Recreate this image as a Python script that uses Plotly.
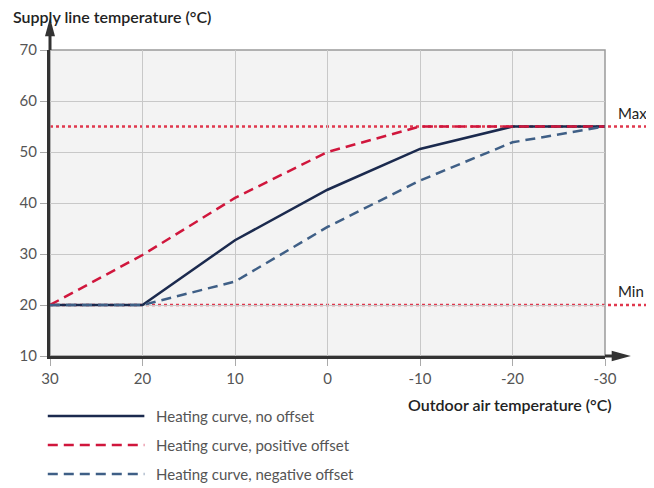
import plotly.graph_objects as go

# outdoor temperature points (x axis runs from 30 down to -30)
outdoor = [30, 20, 10, 0, -10, -20, -30]
no_offset = [20, 20, 32.7, 42.6, 50.6, 55, 55]
positive_offset = [20, 29.8, 41, 50, 55, 55, 55]
negative_offset = [20, 20, 24.6, 35.3, 44.4, 51.9, 55]

limit_names = ["Max", "Min"]
limit_values = [55, 20]

x_ticks = [30, 20, 10, 0, -10, -20, -30]
y_ticks = [10, 20, 30, 40, 50, 60, 70]

series = [
    ("Heating curve, no offset", no_offset, "#1b2a4e", "solid"),
    ("Heating curve, positive offset", positive_offset, "#d0163c", "10px,6px"),
    ("Heating curve, negative offset", negative_offset, "#3f5f86", "10px,6px"),
]

FONT = "Lato"
DARK = "#333333"

fig = go.Figure()

# limit lines (dotted, extend past the plot to the right edge)
for name, val in zip(limit_names, limit_values):
    fig.add_shape(type="line", xref="paper", yref="y", x0=0, x1=1.1, y0=val, y1=val,
                  line=dict(color="#e0384e", width=2.5, dash="dot"), layer="below")
    fig.add_annotation(text=name, xref="paper", yref="y", x=1.02, y=val, yshift=14,
                       xanchor="left", showarrow=False,
                       font=dict(family=FONT, size=15, color="#222222"))

for name, vals, color, dash in series:
    fig.add_trace(go.Scatter(x=outdoor, y=vals, mode="lines", name=name,
                             line=dict(color=color, width=2.5, dash=dash)))

# frame top/right
fig.add_shape(type="rect", xref="paper", yref="paper", x0=0, x1=1, y0=0, y1=1,
              line=dict(color="#9a9a9a", width=1.5), layer="below")

# axis extensions with arrow heads
fig.add_shape(type="line", xref="paper", yref="paper", x0=0, x1=0, y0=1, y1=1.05,
              line=dict(color=DARK, width=3))
fig.add_shape(type="path", xref="paper", yref="paper",
              path="M -0.009 1.045 L 0.009 1.045 L 0 1.105 Z",
              fillcolor=DARK, line=dict(color=DARK, width=0))
fig.add_shape(type="line", xref="paper", yref="paper", x0=1, x1=1.015, y0=0, y1=0,
              line=dict(color=DARK, width=3))
fig.add_shape(type="path", xref="paper", yref="paper",
              path="M 1.012 -0.017 L 1.012 0.017 L 1.0466 0 Z",
              fillcolor=DARK, line=dict(color=DARK, width=0))

# axis titles
fig.add_annotation(text="Supply line temperature (°C)", xref="paper", yref="paper",
                   x=-0.071, y=1.108, xanchor="left", yanchor="middle", showarrow=False,
                   font=dict(family=FONT, size=16, color="#222222", weight=600))
fig.add_annotation(text="Outdoor air temperature (°C)", xref="paper", yref="paper",
                   x=1.016, y=-0.157, xanchor="right", yanchor="middle", showarrow=False,
                   font=dict(family=FONT, size=16, color="#222222", weight=600))

# custom legend
legend_y = [-0.196, -0.291, -0.386]
for (name, vals, color, dash), ly in zip(series, legend_y):
    fig.add_shape(type="line", xref="paper", yref="paper", x0=-0.004, x1=0.17, y0=ly, y1=ly,
                  line=dict(color=color, width=2.5, dash=dash))
    fig.add_annotation(text=name, xref="paper", yref="paper", x=0.188, y=ly,
                       xanchor="left", yanchor="middle", showarrow=False,
                       font=dict(family=FONT, size=15, color="#555555"))

fig.update_xaxes(range=[30, -30], tickvals=x_ticks, ticktext=[str(v) for v in x_ticks],
                 showgrid=True, gridcolor="#c8c8c8", gridwidth=1, zeroline=False,
                 showline=True, linecolor=DARK, linewidth=3,
                 ticks="outside", ticklen=7, tickcolor="#aaaaaa",
                 tickfont=dict(family=FONT, size=15, color="#555555"))
fig.update_yaxes(range=[10, 70], tickvals=y_ticks,
                 showgrid=True, gridcolor="#c8c8c8", gridwidth=1, zeroline=False,
                 showline=True, linecolor=DARK, linewidth=3,
                 ticks="outside", ticklen=7, tickcolor="#aaaaaa",
                 tickfont=dict(family=FONT, size=15, color="#555555"))

# the page adds an 8px body margin, so the figure is 8px smaller each way
fig.update_layout(width=646, height=480, showlegend=False,
                  margin=dict(l=39, r=49, t=42, b=132),
                  plot_bgcolor="#f3f3f3", paper_bgcolor="white")

fig.write_html("out.html")
